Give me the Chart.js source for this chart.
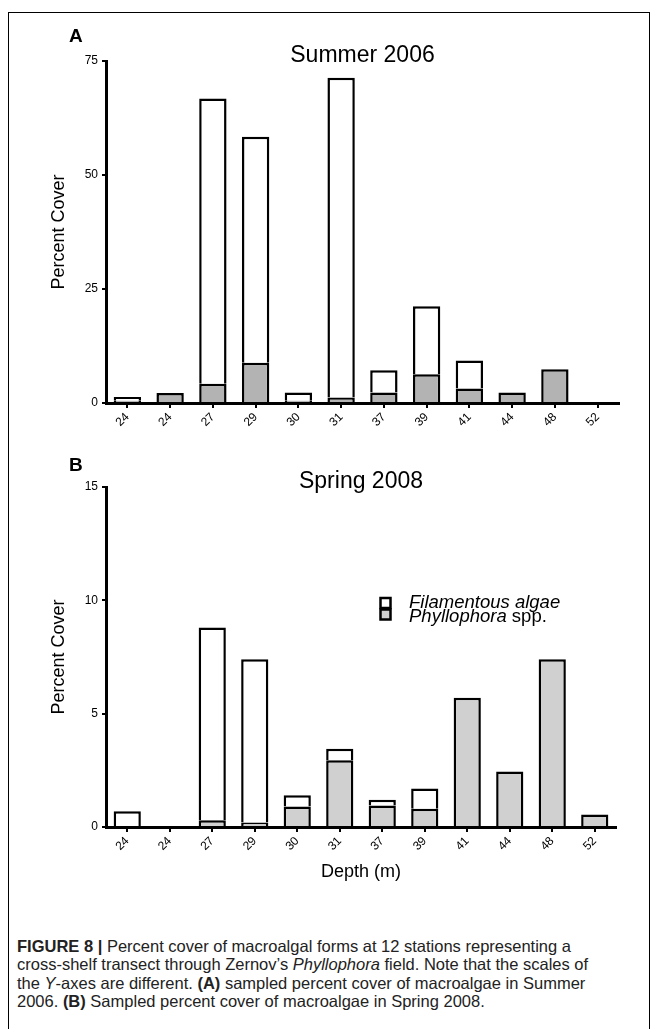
<!DOCTYPE html>
<html>
<head>
<meta charset="utf-8">
<script src="https://cdn.jsdelivr.net/npm/chart.js@4.4.0/dist/chart.umd.min.js"></script>
<style>
  body { margin: 0; background: #fff; font-family: "Liberation Sans", Arial, sans-serif; }
  #page { position: relative; width: 657px; height: 1029px; overflow: hidden; }
  #frame { position: absolute; left: 8px; top: 12px; width: 642px; height: 1100px; border: 1px solid #000; box-sizing: border-box; }
  .panel { position: absolute; left: 0; }
  .tag { position: absolute; left: 69px; font-weight: bold; font-size: 19px; line-height: 19px; color: #000; }
  #caption { position: absolute; left: 17px; top: 937px; font-size: 16.5px; line-height: 18.3px; color: #222; white-space: nowrap; }
</style>
</head>
<body>
<div id="page">
  <div id="frame"></div>
  <canvas id="summer" class="panel" width="657" height="440" style="top:0px"></canvas>
  <canvas id="spring" class="panel" width="657" height="460" style="top:440px"></canvas>
  <div class="tag" style="top:26px">A</div>
  <div class="tag" style="top:455px">B</div>
  <div id="caption">
    <b>FIGURE 8 |</b> Percent cover of macroalgal forms at 12 stations representing a<br>
    cross-shelf transect through Zernov’s <i>Phyllophora</i> field. Note that the scales of<br>
    the <i>Y</i>-axes are different. <b>(A)</b> sampled percent cover of macroalgae in Summer<br>
    2006. <b>(B)</b> Sampled percent cover of macroalgae in Spring 2008.
  </div>
</div>
<script>
// depth of each station (x categories)
const depths = ["24", "24", "27", "29", "30", "31", "37", "39", "41", "44", "48", "52"];

// Summer 2006 (panel A)
const summerPhyllophora = [0.5, 2.2, 4.2, 8.8, 0.5, 1.2, 2.3, 6.3, 3.2, 2.3, 7.4, 0];
const summerFilamentous = [0.8, 0, 62.6, 49.6, 1.8, 70.1, 4.9, 14.9, 6.1, 0, 0, 0];
const summerTicks = [0, 25, 50, 75];

// Spring 2008 (panel B)
const springPhyllophora = [0, 0, 0.3, 0.2, 0.9, 2.95, 0.95, 0.8, 5.7, 2.45, 7.4, 0.55];
const springFilamentous = [0.7, 0, 8.5, 7.2, 0.5, 0.5, 0.25, 0.9, 0, 0, 0, 0];
const springTicks = [0, 5, 10, 15];

const FONT = '"Liberation Sans", Arial, sans-serif';

// big title above the plot area
const panelTitle = {
  id: 'panelTitle',
  afterDraw(chart, args, o) {
    if (!o.text) return;
    const {ctx, chartArea} = chart;
    ctx.save();
    ctx.font = '23px ' + FONT;
    ctx.fillStyle = '#000';
    ctx.textAlign = 'center';
    ctx.textBaseline = 'alphabetic';
    ctx.fillText(o.text, (chartArea.left + chartArea.right) / 2, chartArea.top + 1);
    ctx.restore();
  }
};

// legend with boxes stacked on each other, italic species names
const boxLegend = {
  id: 'boxLegend',
  afterDraw(chart, args, o) {
    if (!o.display) return;
    const ctx = chart.ctx;
    const sets = chart.data.datasets.slice().reverse();
    ctx.save();
    sets.forEach((ds, i) => {
      const y = o.y + i * o.step;
      ctx.fillStyle = ds.backgroundColor;
      ctx.fillRect(o.x, y, o.size, o.size);
      ctx.lineWidth = 2.5;
      ctx.strokeStyle = '#000';
      ctx.strokeRect(o.x, y, o.size, o.size);
      let tx = o.textX;
      ctx.fillStyle = '#000';
      ctx.textBaseline = 'alphabetic';
      ds.legendParts.forEach(p => {
        ctx.font = (p.italic ? 'italic ' : '') + '18.5px ' + FONT;
        ctx.fillText(p.t, tx, o.baseY + i * o.textStep);
        tx += ctx.measureText(p.t).width;
      });
    });
    ctx.restore();
  }
};

function makePanel(id, phyllo, fila, ticks, gray, cfg) {
  const maxY = ticks[ticks.length - 1];
  return new Chart(document.getElementById(id), {
    type: 'bar',
    data: {
      labels: depths,
      datasets: [
        {
          label: 'Phyllophora spp.',
          legendParts: [{t: 'Phyllophora', italic: true}, {t: ' spp.', italic: false}],
          data: phyllo,
          backgroundColor: gray,
          borderColor: '#000',
          borderWidth: 2.5,
          barPercentage: 0.64,
          categoryPercentage: 1
        },
        {
          label: 'Filamentous algae',
          legendParts: [{t: 'Filamentous algae', italic: true}],
          data: fila,
          backgroundColor: '#ffffff',
          borderColor: '#000',
          borderWidth: 2.5,
          barPercentage: 0.64,
          categoryPercentage: 1
        }
      ]
    },
    options: {
      responsive: false,
      animation: false,
      layout: { padding: cfg.padding },
      plugins: {
        legend: { display: false },
        tooltip: { enabled: false },
        panelTitle: { text: cfg.title },
        boxLegend: cfg.legend || { display: false }
      },
      scales: {
        x: {
          stacked: true,
          ticks: { minRotation: 45, maxRotation: 45, autoSkip: false, color: '#000', padding: 2, font: { size: 12, family: FONT } },
          grid: { drawOnChartArea: false, offset: false, tickLength: 5, color: '#000', lineWidth: 2 },
          border: { display: true, color: '#000', width: 3, z: 1 },
          title: { display: !!cfg.xTitle, text: cfg.xTitle, color: '#000', padding: 0, font: { size: 18, family: FONT } },
          afterFit: s => { s.height = cfg.xHeight; }
        },
        y: {
          stacked: true,
          min: 0,
          max: maxY,
          afterBuildTicks: s => { s.ticks = ticks.map(v => ({value: v})); },
          ticks: { color: '#000', padding: 4, font: { size: 12, family: FONT } },
          grid: { drawOnChartArea: false, tickLength: 4, color: '#000', lineWidth: 2 },
          border: { display: true, color: '#000', width: 3, z: 1 },
          title: { display: true, text: 'Percent Cover', color: '#000', padding: { top: 8, bottom: 0 }, font: { size: 18, family: FONT } },
          afterFit: s => { s.width = 66; }
        }
      }
    },
    plugins: [panelTitle, boxLegend]
  });
}

makePanel('summer', summerPhyllophora, summerFilamentous, summerTicks, '#b3b3b3', {
  title: 'Summer 2006',
  padding: { top: 61, left: 40, right: 38, bottom: 0 },
  xHeight: 37
});

makePanel('spring', springPhyllophora, springFilamentous, springTicks, '#d0d0d0', {
  title: 'Spring 2008',
  padding: { top: 47, left: 40, right: 41, bottom: 17 },
  xHeight: 56,
  xTitle: 'Depth (m)',
  legend: { display: true, x: 380.5, y: 158, size: 10, step: 11.5, textX: 409, baseY: 168, textStep: 13.5 }
});
</script>
</body>
</html>
